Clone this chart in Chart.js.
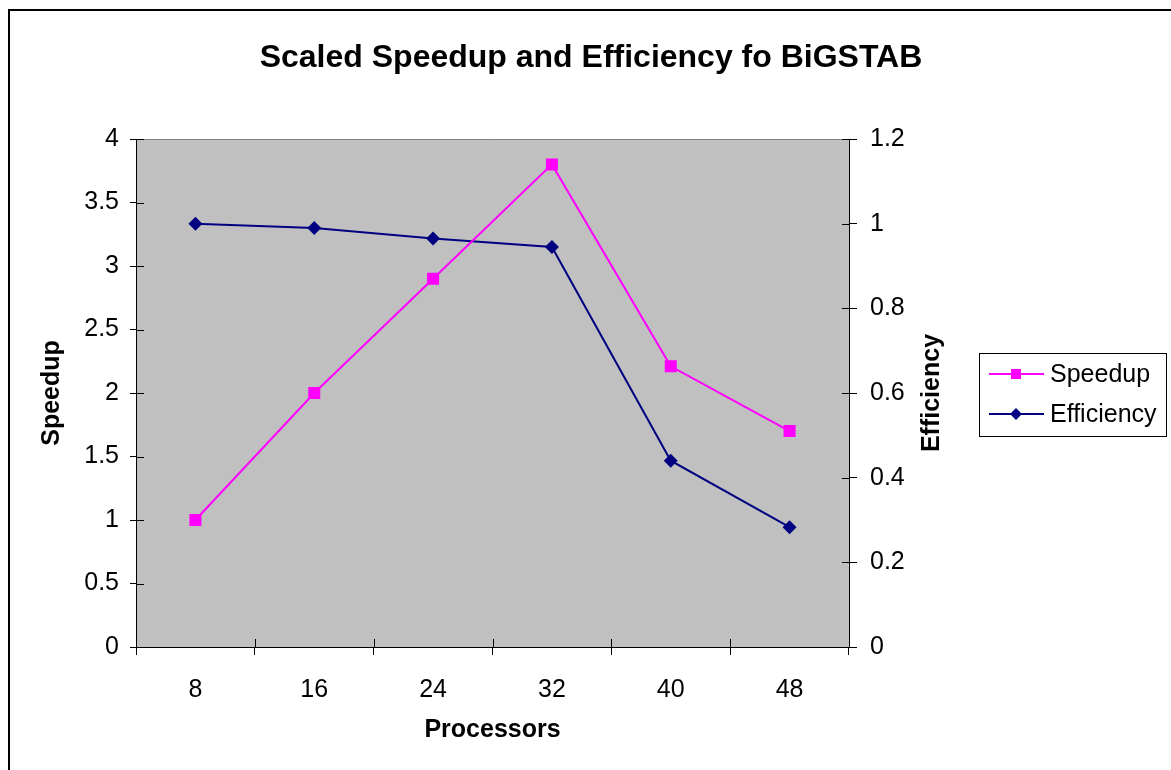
<!DOCTYPE html>
<html>
<head>
<meta charset="utf-8">
<script src="https://cdn.jsdelivr.net/npm/chart.js@4/dist/chart.umd.min.js"></script>
<style>
html,body{margin:0;padding:0;background:#fff;}
#wrap{width:1171px;height:770px;position:relative;}
</style>
</head>
<body>
<div id="wrap"><canvas id="c"></canvas></div>
<script>
const processors = ['8', '16', '24', '32', '40', '48'];
const speedup = [1.0, 2.0, 2.9, 3.8, 2.21, 1.70];
const efficiency = [1.0, 0.99, 0.965, 0.945, 0.44, 0.283];
const chartTitle = 'Scaled Speedup and Efficiency fo BiGSTAB';
const xTitle = 'Processors';
const yLeftTitle = 'Speedup';
const yRightTitle = 'Efficiency';

const FONT = "'Liberation Sans', Arial, sans-serif";
const MAGENTA = '#FF00FF';
const NAVY = '#000080';

const fmt = v => String(Number(Number(v).toFixed(2)));

const decor = {
  id: 'decor',
  beforeDraw(chart) {
    const {ctx, chartArea: a} = chart;
    ctx.save();
    ctx.fillStyle = '#C0C0C0';
    ctx.fillRect(a.left, a.top, a.right - a.left, a.bottom - a.top);
    ctx.strokeStyle = '#808080';
    ctx.lineWidth = 1;
    ctx.beginPath();
    ctx.moveTo(a.left, a.top + 0.5);
    ctx.lineTo(a.right, a.top + 0.5);
    ctx.stroke();
    // outer chart border
    ctx.strokeStyle = '#000';
    ctx.lineWidth = 2;
    ctx.strokeRect(9, 10, chart.width + 20, chart.height + 20);
    ctx.restore();
  },
  beforeDatasetsDraw(chart) {
    const {ctx, chartArea: a, scales} = chart;
    ctx.save();
    ctx.strokeStyle = '#000';
    ctx.lineWidth = 1;
    ctx.beginPath();
    const yl = scales.y, yr = scales.y1;
    yl.ticks.forEach((t, i) => {
      const p = Math.round(yl.getPixelForTick(i)) + 0.5;
      ctx.moveTo(a.left, p); ctx.lineTo(a.left + 8, p);
    });
    yr.ticks.forEach((t, i) => {
      const p = Math.round(yr.getPixelForTick(i)) + 0.5;
      ctx.moveTo(a.right, p); ctx.lineTo(a.right - 7, p);
    });
    const n = processors.length;
    const step = (a.right - a.left) / n;
    for (let i = 0; i <= n; i++) {
      const p = Math.round(a.left + i * step) + 0.5;
      ctx.moveTo(p, a.bottom); ctx.lineTo(p, a.bottom - 8);
    }
    ctx.stroke();
    ctx.restore();
  },
  afterDraw(chart) {
    const {ctx, chartArea: a} = chart;
    // chart title
    ctx.save();
    ctx.fillStyle = '#000';
    ctx.font = 'bold 32px ' + FONT;
    ctx.textAlign = 'center';
    ctx.textBaseline = 'middle';
    ctx.fillText(chartTitle, 591, 58);
    ctx.restore();

    // right axis title, rotated like the left one
    ctx.save();
    ctx.fillStyle = '#000';
    ctx.font = 'bold 25px ' + FONT;
    ctx.textAlign = 'center';
    ctx.textBaseline = 'middle';
    ctx.translate(932, (a.top + a.bottom) / 2);
    ctx.rotate(-Math.PI / 2);
    ctx.fillText(yRightTitle, 0, 0);
    ctx.restore();

    // legend
    ctx.save();
    ctx.strokeStyle = '#000';
    ctx.lineWidth = 1;
    ctx.strokeRect(979.5, 353.5, 187, 83);
    const items = [
      {label: chart.data.datasets[0].label, color: MAGENTA, y: 374, shape: 'square'},
      {label: chart.data.datasets[1].label, color: NAVY, y: 414, shape: 'diamond'}
    ];
    items.forEach(it => {
      ctx.strokeStyle = it.color;
      ctx.lineWidth = 2;
      ctx.beginPath();
      ctx.moveTo(989, it.y); ctx.lineTo(1044, it.y);
      ctx.stroke();
      ctx.fillStyle = it.color;
      if (it.shape === 'square') {
        ctx.fillRect(1011, it.y - 5, 10, 10);
      } else {
        ctx.beginPath();
        ctx.moveTo(1016, it.y - 6); ctx.lineTo(1022, it.y);
        ctx.lineTo(1016, it.y + 6); ctx.lineTo(1010, it.y);
        ctx.closePath(); ctx.fill();
      }
      ctx.fillStyle = '#000';
      ctx.font = '25px ' + FONT;
      ctx.textAlign = 'left';
      ctx.textBaseline = 'middle';
      ctx.fillText(it.label, 1050, it.y + 1);
    });
    ctx.restore();
  }
};

new Chart(document.getElementById('c'), {
  type: 'line',
  data: {
    labels: processors,
    datasets: [
      {
        label: 'Speedup', data: speedup, yAxisID: 'y',
        borderColor: MAGENTA, backgroundColor: MAGENTA, borderWidth: 2,
        pointStyle: 'rect', pointRadius: 8.5, pointHoverRadius: 8.5,
        pointBorderWidth: 0, tension: 0
      },
      {
        label: 'Efficiency', data: efficiency, yAxisID: 'y1',
        borderColor: NAVY, backgroundColor: NAVY, borderWidth: 2,
        pointStyle: 'rectRot', pointRadius: 7, pointHoverRadius: 7,
        pointBorderWidth: 0, tension: 0
      }
    ]
  },
  options: {
    responsive: true,
    maintainAspectRatio: false,
    animation: false,
    events: [],
    layout: {padding: {left: 0, top: 139, right: 211, bottom: 0}},
    plugins: {
      legend: {display: false},
      tooltip: {enabled: false},
      title: {display: false}
    },
    scales: {
      x: {
        type: 'category', offset: true,
        grid: {display: true, offset: true, drawOnChartArea: false, drawTicks: true, tickLength: 8, color: '#000'},
        border: {display: true, color: '#000', width: 1},
        ticks: {color: '#000', font: {family: FONT, size: 25}, padding: 20, maxRotation: 0},
        title: {display: true, text: xTitle, color: '#000', font: {family: FONT, size: 25, weight: 'bold'}, padding: {top: 0, bottom: 25}},
        afterFit(s) { s.height = 123; }
      },
      y: {
        position: 'left', min: 0, max: 4,
        grid: {display: true, drawOnChartArea: false, drawTicks: true, tickLength: 6, color: '#000'},
        border: {display: true, color: '#000', width: 1},
        ticks: {stepSize: 0.5, color: '#000', font: {family: FONT, size: 25}, padding: 11, callback: fmt},
        title: {display: true, text: yLeftTitle, color: '#000', font: {family: FONT, size: 25, weight: 'bold'}, padding: {top: 37, bottom: 0}},
        afterFit(s) { s.width = 136; }
      },
      y1: {
        position: 'right', min: 0, max: 1.2,
        grid: {display: true, drawOnChartArea: false, drawTicks: true, tickLength: 8, color: '#000'},
        border: {display: true, color: '#000', width: 1},
        ticks: {stepSize: 0.2, color: '#000', font: {family: FONT, size: 25}, padding: 13, callback: fmt},
        title: {display: false},
        afterFit(s) { s.width = 111; }
      }
    }
  },
  plugins: [decor]
});
</script>
</body>
</html>
